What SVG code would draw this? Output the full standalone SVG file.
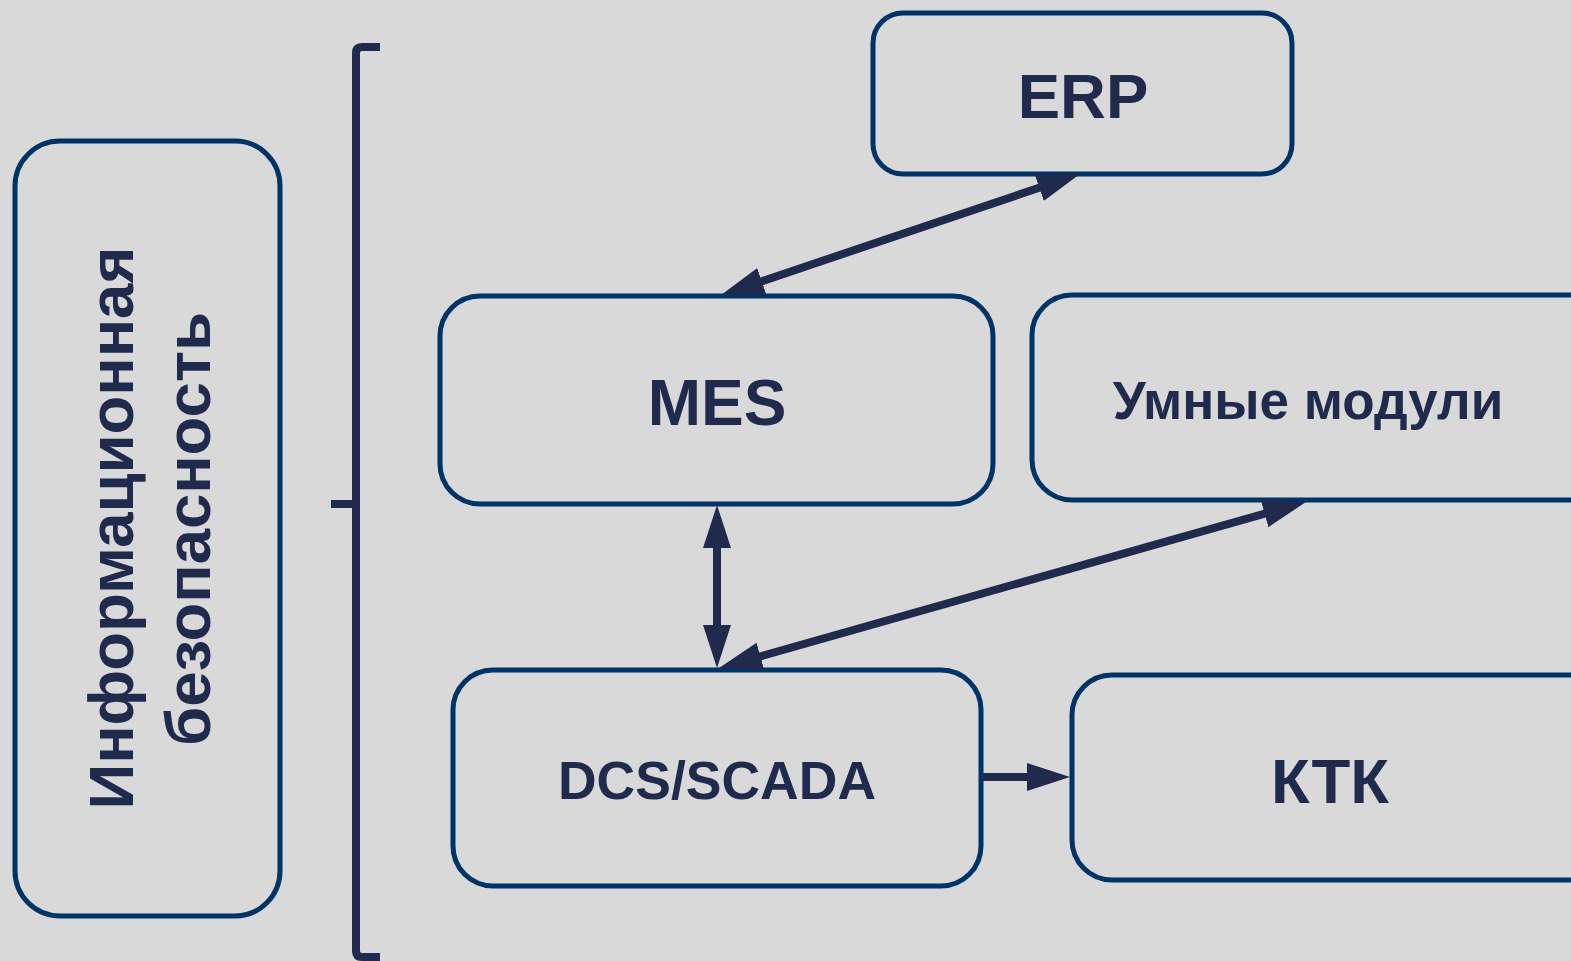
<svg xmlns="http://www.w3.org/2000/svg" width="1571" height="961" viewBox="0 0 1571 961">
<style>
.box{fill:#d9d9d9;stroke:#003366;stroke-width:5}
.t{font-family:"Liberation Sans",Arial,sans-serif;font-weight:bold;fill:#1f2a4d;text-anchor:middle}
.c{stroke:#1f2a4d;stroke-width:8;fill:none}
.b{stroke:#1f2a4d;stroke-width:8;fill:none}
</style>
<defs>
<marker id="ah" markerUnits="userSpaceOnUse" markerWidth="46" markerHeight="30" refX="18" refY="14" orient="auto-start-reverse" viewBox="0 0 46 28">
<path d="M0,0 L43,14 L0,28 Z" fill="#1f2a4d"/>
</marker>
</defs>
<rect width="1571" height="961" fill="#d9d9d9"/>
<g id="brace">
<path d="M380,47 L362,47 Q356,47 356,53 L356,951 Q356,957 362,957 L380,957" class="b"/>
<path d="M331,504 L356,504" class="b"/>
</g>
<g id="infosec">
<rect class="box" x="15" y="141" width="265" height="775" rx="45"/>
<text class="t" font-size="63.5" transform="translate(133,528) rotate(-90)">Информационная</text>
<text class="t" font-size="63.5" transform="translate(210,529) rotate(-90)">безопасность</text>
</g>
<g id="erp">
<rect class="box" x="873" y="13" width="419" height="161" rx="30"/>
<text class="t" font-size="63.5" x="1083" y="118">ERP</text>
</g>
<g id="mes">
<rect class="box" x="440" y="296" width="553" height="208" rx="40"/>
<text class="t" font-size="64" x="717" y="425">MES</text>
</g>
<g id="smart">
<rect class="box" x="1032" y="295" width="580" height="205" rx="40"/>
<text class="t" font-size="53" x="1308" y="419">Умные модули</text>
</g>
<g id="dcs">
<rect class="box" x="453" y="670" width="528" height="216" rx="40"/>
<text class="t" font-size="53.5" x="717" y="799">DCS/SCADA</text>
</g>
<g id="ktk">
<rect class="box" x="1072" y="675" width="540" height="205" rx="40"/>
<text class="t" font-size="63.5" x="1330" y="803">КТК</text>
</g>
<g id="connectors">
<line class="c" x1="744.7" y1="287" x2="1056.3" y2="182" marker-start="url(#ah)" marker-end="url(#ah)"/>
<line class="c" x1="717" y1="530" x2="717" y2="643" marker-start="url(#ah)" marker-end="url(#ah)"/>
<line class="c" x1="743.1" y1="661.2" x2="1281.9" y2="508.8" marker-start="url(#ah)" marker-end="url(#ah)"/>
<line class="c" x1="983" y1="777" x2="1045" y2="777" marker-end="url(#ah)"/>
</g>
</svg>
